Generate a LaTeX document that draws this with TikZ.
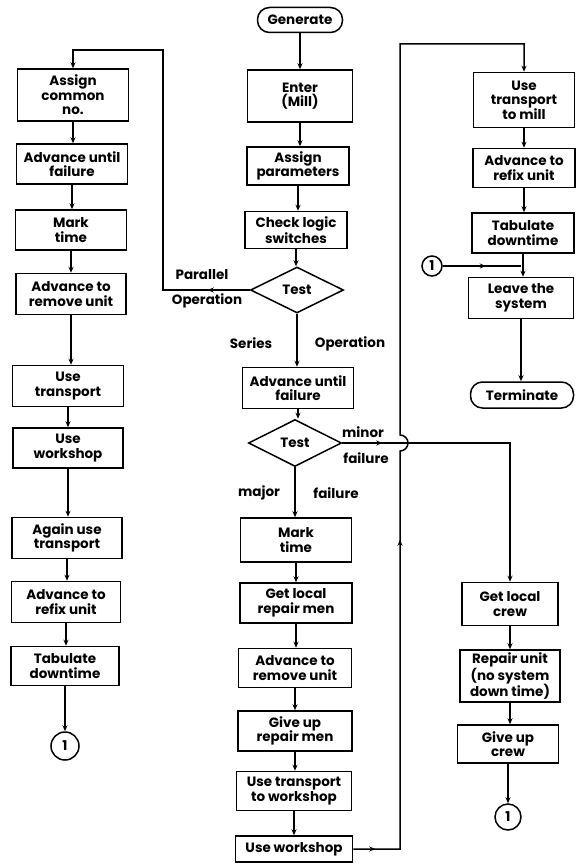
\documentclass[tikz,border=0pt]{standalone}
\usepackage{fontspec}
\setmainfont{Poppins}
\usetikzlibrary{arrows.meta, shapes.geometric, decorations.markings}

\begin{document}
\begin{tikzpicture}[x=1pt, y=-1pt,
    font=\bfseries\fontsize{13.5}{14.5}\selectfont,
    box/.style={draw, line width=1.5pt, align=center, inner sep=1pt},
    term/.style={box, rounded corners=12pt},
    test/.style={draw, line width=1.5pt, diamond, inner sep=0pt},
    conn/.style={draw, line width=1.5pt, circle, inner sep=0pt},
    link/.style={line width=1.5pt, -{Stealth[length=6pt, width=5pt]}},
    midtip/.style={postaction={decorate, decoration={markings,
        mark=at position #1 with {\arrow{Stealth[length=6pt, width=5pt]}}}}},
    lbl/.style={inner sep=0pt}]
    \useasboundingbox (0,0) rectangle (577,864);

    % Main column
    \node[term, minimum width=85pt, minimum height=25pt] (gen) at (300,20) {Generate};
    \node[box, minimum width=105pt, minimum height=52pt] (m1) at (300,96) {Enter\\(Mill)};
    \node[box, minimum width=102pt, minimum height=38pt] (m2) at (298,166) {Assign\\parameters};
    \node[box, minimum width=102pt, minimum height=37pt] (m3) at (296,230) {Check logic\\switches};
    \node[test, minimum width=93pt, minimum height=46pt] (t1) at (297,290) {Test};
    \node[box, minimum width=111pt, minimum height=41pt] (m4) at (298,388) {Advance until\\failure};
    \node[test, minimum width=93pt, minimum height=47pt] (t2) at (295,443) {Test};
    \node[box, minimum width=111pt, minimum height=44pt] (m5) at (296,540) {Mark\\time};
    \node[box, minimum width=112pt, minimum height=40pt] (m6) at (296,603) {Get local\\repair men};
    \node[box, minimum width=113pt, minimum height=39pt] (m7) at (295,668) {Advance to\\remove unit};
    \node[box, minimum width=114pt, minimum height=40pt] (m8) at (295,731) {Give up\\repair men};
    \node[box, minimum width=115pt, minimum height=39pt] (m9) at (294,791) {Use transport\\to workshop};
    \node[box, minimum width=117pt, minimum height=26pt] (m10) at (294,849) {Use workshop};

    % Parallel branch
    \node[box, minimum width=111pt, minimum height=52pt] (a1) at (73,95) {Assign\\common\\no.};
    \node[box, minimum width=111pt, minimum height=40pt] (a2) at (72,164) {Advance until\\failure};
    \node[box, minimum width=111pt, minimum height=40pt] (a3) at (71,230) {Mark\\time};
    \node[box, minimum width=110pt, minimum height=41pt] (a4) at (71,294) {Advance to\\remove unit};
    \node[box, minimum width=111pt, minimum height=41pt] (a5) at (68,386) {Use\\transport};
    \node[box, minimum width=110pt, minimum height=40pt] (a6) at (68,448) {Use\\workshop};
    \node[box, minimum width=110pt, minimum height=41pt] (a7) at (67,538) {Again use\\transport};
    \node[box, minimum width=109pt, minimum height=41pt] (a8) at (66,602) {Advance to\\refix unit};
    \node[box, minimum width=108pt, minimum height=39pt] (a9) at (65,666) {Tabulate\\downtime};
    \node[conn, minimum size=28pt] (c1) at (65,746) {1};

    % Exit column
    \node[box, minimum width=101pt, minimum height=55pt] (r1) at (524,100) {Use\\transport\\to mill};
    \node[box, minimum width=102pt, minimum height=39pt] (r2) at (524,168) {Advance to\\refix unit};
    \node[box, minimum width=102pt, minimum height=40pt] (r3) at (523,233) {Tabulate\\downtime};
    \node[box, minimum width=105pt, minimum height=41pt] (r4) at (521,298) {Leave the\\system};
    \node[term, minimum width=103pt, minimum height=26pt] (term) at (522,395) {Terminate};
    \node[conn, minimum size=20pt] (c2) at (432,266) {1};

    % Minor failure column
    \node[box, minimum width=96pt, minimum height=43pt] (s1) at (510,604) {Get local\\crew};
    \node[box, minimum width=100pt, minimum height=52pt] (s2) at (510,676) {Repair unit\\(no system\\down time)};
    \node[box, minimum width=101pt, minimum height=38pt] (s3) at (508,744) {Give up\\crew};
    \node[conn, minimum size=26pt] (c3) at (508,817) {1};

    % Branch labels
    \node[lbl] (par) at (202,275) {Parallel};
    \node[lbl] (paro) at (207,301) {Operation};
    \node[lbl] (ser) at (251,343) {Series};
    \node[lbl] (sero) at (350,344) {Operation};
    \node[lbl] (mnr) at (363,432) {minor};
    \node[lbl] (mnrf) at (366,458) {failure};
    \node[lbl] (mjr) at (259,493) {major};
    \node[lbl] (mjrf) at (336,493) {failure};

    % Loop corners
    \coordinate (pl) at (163,50);
    \coordinate (hb) at (400,451);
    \coordinate (ws) at (400,44);

    % Main flow
    \draw[link] (gen) -- (gen |- m1.north);
    \draw[link] (m1) -- (m1 |- m2.north);
    \draw[link] (m2) -- (m2 |- m3.north);
    \draw[link] (m3) -- (m3 |- t1.north);
    \draw[link] (t1) -- (t1 |- m4.north);
    \draw[link] (m4) -- (m4 |- t2.north);
    \draw[link] (t2) -- (t2 |- m5.north);
    \draw[link] (m5) -- (m5 |- m6.north);
    \draw[link] (m6) -- (m6 |- m7.north);
    \draw[link] (m7) -- (m7 |- m8.north);
    \draw[link] (m8) -- (m8 |- m9.north);
    \draw[link] (m9) -- (m9 |- m10.north);

    % Parallel operation
    \draw[link, midtip=42pt] (t1.west) -| (pl) -| (a1.north);
    \draw[link] (a1) -- (a1 |- a2.north);
    \draw[link] (a2) -- (a2 |- a3.north);
    \draw[link] (a3) -- (a3 |- a4.north);
    \draw[link] (a4) -- (a4 |- a5.north);
    \draw[link] (a5) -- (a5 |- a6.north);
    \draw[link] (a6) -- (a6 |- a7.north);
    \draw[link] (a7) -- (a7 |- a8.north);
    \draw[link] (a8) -- (a8 |- a9.north);
    \draw[link] (a9) -- (c1);

    % Back to the mill, hopping over the minor failure line
    \draw[link, midtip=22pt, midtip=356pt] (m10.east) -| (hb)
        arc[start angle=-90, end angle=90, radius=8pt] -- (ws) -| (r1.north);
    \draw[link] (r1) -- (r1 |- r2.north);
    \draw[link] (r2) -- (r2 |- r3.north);
    \draw[link] (r3) -- (r3 |- r4.north);
    \draw[link] (r4) -- (r4 |- term.north);
    \draw[line width=1.5pt, midtip=0.55] (c2) -- (c2 -| r4.north);

    % Minor failure
    \draw[link, midtip=40pt] (t2.east) -| (s1.north);
    \draw[link] (s1) -- (s1 |- s2.north);
    \draw[link] (s2) -- (s2 |- s3.north);
    \draw[link] (s3) -- (c3);
\end{tikzpicture}
\end{document}
